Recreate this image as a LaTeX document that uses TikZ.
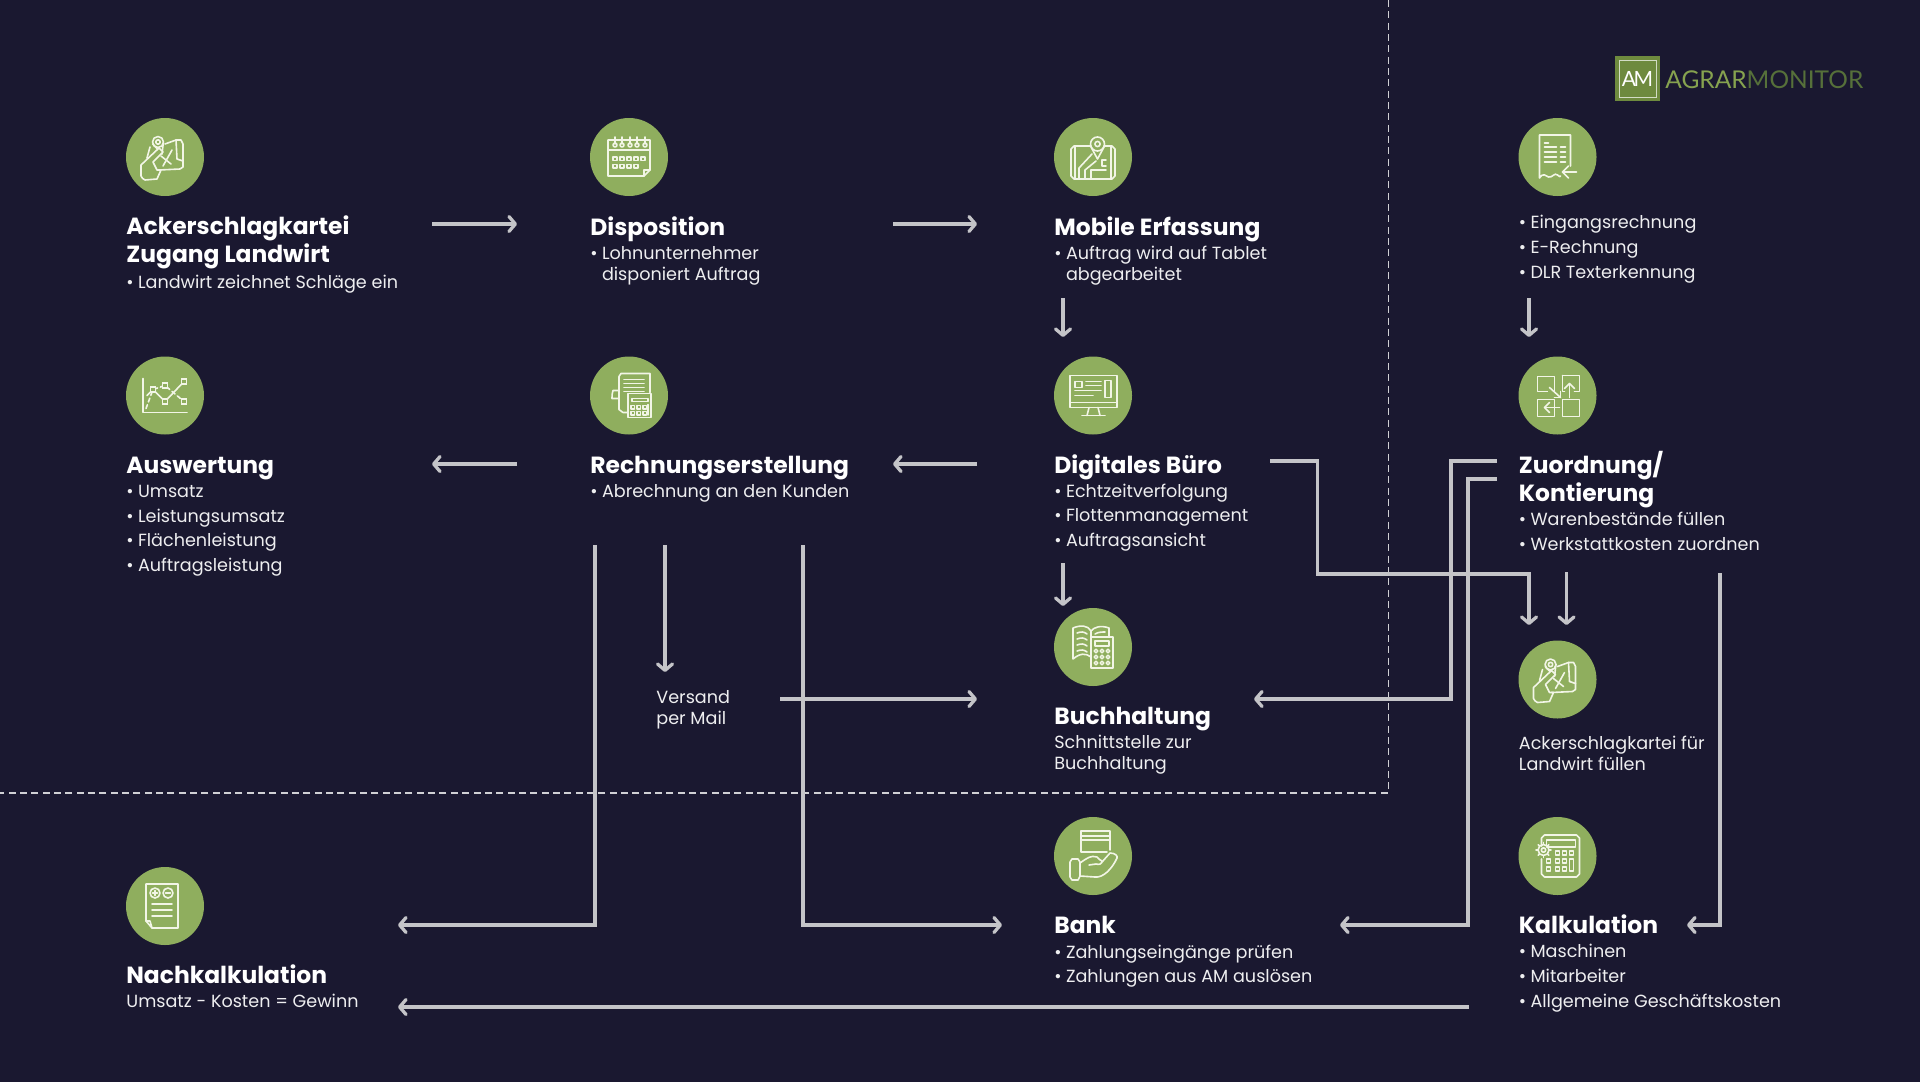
\documentclass[tikz,border=0pt]{standalone}
\usepackage{fontspec}
\setmainfont{Poppins}
\newfontfamily\logofont{Lato}
\usetikzlibrary{arrows.meta}
\definecolor{bgc}{HTML}{1A1830}
\definecolor{grn}{HTML}{8FAE5E}
\definecolor{arrc}{HTML}{C4C4C8}
\definecolor{txtc}{HTML}{EEEEF0}
\definecolor{dshc}{HTML}{D0D0D4}
\definecolor{icoc}{HTML}{F2F5E6}
\definecolor{logod}{HTML}{6E8A3E}
\definecolor{logoa}{HTML}{86A24F}
\definecolor{logom}{HTML}{56703A}
\newcommand\bl[1]{\makebox[5.8pt][l]{•}#1}
\newcommand\hang{\hspace*{5.8pt}}
\tikzset{
  icirc/.style={circle,fill=grn,minimum size=39pt,inner sep=0pt,draw=none},
  ttl/.style={anchor=base west,inner sep=0pt,align=left,text=white,font=\fontsize{11.7}{14}\selectfont\bfseries},
  bdy/.style={anchor=base west,inner sep=0pt,align=left,text=txtc,font=\fontsize{8.8}{12.3}\selectfont},
  arr/.style={draw=arrc,line width=1.65pt,-{Straight Barb[length=3.2pt,width=7.5pt,line width=1.65pt,round]}},
  dsh/.style={draw=dshc,line width=0.8pt,dash pattern=on 3.5pt off 2.17pt},
  ico/.style={draw=icoc,line width=0.8pt,line join=round,line cap=round},
  iconfield/.pic={
    \draw[ico] (-7,-15) circle (5.5);
    \draw[ico] (-7,-15) circle (2.2);
    \draw[ico] (-12.3,-13) -- (-3,-3) -- (-1.7,-14);
    \draw[ico] (-15,-10) -- (-18,1);
    \draw[ico] (0,-13) -- (11,-17) -- (16,-17) to[bend left=20] (18,-13) -- (18,10) to[bend left=20] (15,12) -- (-6,13);
    \draw[ico] (11,-17) -- (12,2) -- (18,4);
    \draw[ico] (-4,-1) -- (6,7);
    \draw[ico] (7,-7) -- (-2,9);
    \draw[ico,fill=grn] (-24,8) -- (-6,-9) -- (-2,-5) -- (-12,5) -- (-8,13) -- (-4,13) -- (-8,22) -- (-20,23) to[bend left=20] (-24,19) -- cycle;
  },
  iconchart/.pic={
    \draw[ico] (-22,-17) -- (-22,17) -- (22,17);
    \draw[ico] (-18,0) -- (-12,-6) -- (0,6) -- (19,-14);
    \draw[ico,dash pattern=on 2pt off 1.5pt] (-19,13) -- (-12,-6) -- (0,-10) -- (19,6);
    \foreach \a/\b in {-12/-6,0/-10,0/6,19/-14,19/6}{\fill[grn,draw=icoc,line width=0.8pt] (\a-2.5,\b-2.5) rectangle (\a+2.5,\b+2.5);}
  },
  iconcal/.pic={
    \draw[ico] (-21,-17) -- (21,-17) -- (21,13) -- (15,19) -- (-21,19) -- cycle;
    \draw[ico] (-21,-7) -- (21,-7);
    \draw[ico] (15,19) -- (15,13) -- (21,13);
    \foreach \a in {-14,-7,1,8,16}{\draw[ico] (\a,-12) circle (2); \draw[ico] (\a,-20) -- (\a,-13);}
    \foreach \a in {-16,-9,-2,5,12}{\draw[ico,line width=0.7pt] (\a,0) rectangle ++(4,3.5);}
    \foreach \a in {-16,-9,-2,5}{\draw[ico,line width=0.7pt] (\a,7.5) rectangle ++(4,3.5);}
  },
  icontablet/.pic={
    \draw[ico] (-2,-11) -- (-19,-11) to[bend right=20] (-22,-8) -- (-22,19) to[bend right=20] (-19,22) -- (19,22) to[bend right=20] (22,19) -- (22,-8) to[bend right=20] (19,-11) -- (11,-11);
    \draw[ico] (-18,-11) -- (-18,22); \draw[ico] (18,-11) -- (18,22);
    \draw[ico] (4.5,-13) circle (7);
    \draw[ico] (4.5,-13) circle (2.6);
    \draw[ico] (-2,-10) -- (4.5,2) -- (11,-10);
    \draw[ico] (-14,22) -- (-14,11) -- (-1,-3);
    \draw[ico] (-8,22) -- (-8,13) -- (3,4);
    \draw[ico] (-2,22) -- (-2,13) -- (13,13);
    \draw[ico] (13,3) -- (9,3) -- (9,9) -- (13,9);
  },
  iconbill/.pic={
    \draw[ico] (-1,17) -- (-6,17) -- (-10,14) -- (-10,-19) to[bend left=30] (-8,-22) -- (21,-22) -- (21,-3);
    \draw[ico] (-10,-5) -- (-16,-5) to[bend right=10] (-17,3) -- (-10,3);
    \foreach \b in {-16,-12,-8,-4}{\draw[ico] (-5,\b) -- (15,\b);}
    \draw[ico] (-1,-2) rectangle (22,22);
    \draw[ico] (3,3) rectangle (19,6);
    \foreach \a in {2,8,14}{\foreach \b in {10,16}{\draw[ico,line width=0.7pt] (\a,\b) rectangle ++(3.5,3.5);}}
    \draw[ico,line width=0.7pt] (19,9) -- (19,19.5);
  },
  iconscreen/.pic={
    \draw[ico] (-23,-20) rectangle (24,12);
    \draw[ico] (-23,7) -- (24,7);
    \draw[ico] (-4,12) -- (-6,20); \draw[ico] (5,12) -- (7,20);
    \draw[ico] (-11,20) -- (12,20);
    \draw[ico] (-18,-14) rectangle (-11,-8);
    \draw[ico] (-7,-14) -- (8,-14); \draw[ico] (-7,-10) -- (8,-10);
    \draw[ico] (-18,-5) -- (8,-5); \draw[ico] (-18,0) -- (0,0);
    \draw[ico] (12,-15) rectangle (18,2);
  },
  iconin/.pic={
    \draw[ico] (13,9) -- (13,-22) -- (-18,-22) -- (-18,21) .. controls (-14,15) and (-12,19) .. (-9,20) .. controls (-5,21) and (-3,15) .. (0,18) .. controls (2,20) and (3,20) .. (3,19);
    \draw[ico] (-13,-14) -- (-9,-14);
    \foreach \b in {-10,-5,0,5}{\draw[ico] (-13,\b) -- (-1,\b); \draw[ico] (3,\b) -- (8,\b);}
    \draw[ico] (19,15) -- (5,15);
    \draw[ico] (11,9) -- (5,15) -- (11,21);
  },
  iconassign/.pic={
    \draw[ico] (-20,-19) rectangle (-3,-4);
    \draw[ico] (5,-20) -- (22,-20) -- (22,-4) -- (17,-4);
    \draw[ico] (7,-4) -- (5,-4) -- (5,-20);
    \draw[ico] (-20,4) rectangle (-3,21);
    \draw[ico] (5,4) rectangle (22,21);
    \fill[grn] (-10,-5) rectangle (-2,3);
    \draw[ico] (-8,-8) -- (3,2);
    \draw[ico] (-3,2) -- (3,2) -- (3,-4);
    \draw[ico] (12,2) -- (12,-12);
    \draw[ico] (7,-7) -- (12,-12) -- (17,-7);
    \draw[ico] (2,12) -- (-13,12);
    \draw[ico] (-8,7) -- (-13,12) -- (-8,17);
  },
  iconbook/.pic={
    \draw[ico] (-2,10) .. controls (-7,6) and (-13,6) .. (-20,12) -- (-20,-19) .. controls (-13,-22) and (-5,-22) .. (-2,-16) .. controls (1,-20) and (8,-22) .. (16,-19) -- (16,-9);
    \draw[ico] (-2,-16) -- (-2,14);
    \foreach \b in {-14,-8,-2,4}{\draw[ico] (-16,\b) .. controls (-12,\b-1.5) and (-9,\b-1.5) .. (-6,\b+1);}
    \draw[ico] (2,-13) .. controls (5,-15) and (9,-15) .. (12,-15);
    \draw[ico,fill=grn] (-2,-10) rectangle (20,21);
    \draw[ico] (2,-6) rectangle (16,-1);
    \foreach \a in {3,9,15}{\foreach \b in {4,10,16}{\draw[ico,line width=0.7pt] (\a,\b) circle (1.9);}}
  },
  iconbank/.pic={
    \draw[ico] (17,-6) -- (17,-25) -- (-12,-25) -- (-12,-4) -- (14,-4);
    \draw[ico] (-12,-16) -- (17,-16);
    \draw[ico] (-12,-20) -- (17,-20);
    \draw[ico] (-21,3) -- (-15,3) -- (-13,6) -- (-13,20) -- (-15,24) -- (-21,24) -- (-23,21) -- (-23,6) -- cycle;
    \draw[ico] (-13,7) .. controls (-6,2) and (-2,-1) .. (4,1) .. controls (6,3) and (8,5) .. (9,5);
    \draw[ico] (9,5) .. controls (9,8) and (6,9) .. (3,8) -- (-4,9);
    \draw[ico] (9,6) -- (17,-3) .. controls (22,-3) and (25,0) .. (24,2) .. controls (19,13) and (10,22) .. (2,21) -- (-13,20);
  },
  iconcalc/.pic={
    \draw[ico] (-16,-10) -- (-16,-18) -- (-13,-21) -- (19,-21) -- (22,-18) -- (22,18) -- (19,21) -- (-13,21) -- (-16,18) -- (-16,3);
    \draw[ico] (-11,-16) rectangle (18,-9);
    \foreach \a in {-2,5,12}{\draw[ico,line width=0.7pt] (\a,-5) rectangle ++(4,4);}
    \foreach \a in {-11,-2,5}{\draw[ico,line width=0.7pt] (\a,3) rectangle ++(4,4); \draw[ico,line width=0.7pt] (\a,11) rectangle ++(4,4);}
    \draw[ico,line width=0.7pt] (12,3) rectangle (16,15);
    \draw[ico] (-14,-6) circle (5.5);
    \draw[ico] (-14,-6) circle (2.2);
    \foreach \t in {0,45,...,315}{\draw[ico] ([shift={(\t:5.5)}]-14,-6) -- ([shift={(\t:7.5)}]-14,-6);}
  },
  icondoc/.pic={
    \draw[ico] (-19,-22) -- (13,-22) -- (13,22) -- (-13,22) -- (-19,15) -- cycle;
    \draw[ico] (-13,22) -- (-15,15) -- (-19,15);
    \draw[ico] (-10,-13) circle (5); \draw[ico] (3,-13) circle (5);
    \draw[ico] (-12.5,-13) -- (-7.5,-13); \draw[ico] (-10,-15.5) -- (-10,-10.5);
    \draw[ico] (0.5,-13) -- (5.5,-13);
    \foreach \b in {-2,4,10}{\draw[ico] (-13,\b) -- (7,\b);}
  }
}
\begin{document}
\begin{tikzpicture}[x=0.5pt,y=-0.5pt]
\fill[bgc] (0,0) rectangle (1920,1082);
\useasboundingbox (0,0) rectangle (1920,1082);

% dashed frame
\coordinate (dA) at (1388.5,0);
\coordinate (dB) at (1388.5,793);
\coordinate (dC) at (0,793);
\draw[dsh] (dA) -- (dB) -- (dC);

% circles
\node[icirc] (iAck) at (165,157) {};
\node[icirc] (iDis) at (629,157) {};
\node[icirc] (iMob) at (1093,157) {};
\node[icirc] (iEin) at (1557.5,157) {};
\node[icirc] (iAus) at (165,395.5) {};
\node[icirc] (iRec) at (629,395.5) {};
\node[icirc] (iDig) at (1093,395.5) {};
\node[icirc] (iZuo) at (1557.5,395.5) {};
\node[icirc] (iBuc) at (1093,647) {};
\node[icirc] (iFil) at (1557.5,679.5) {};
\node[icirc] (iBan) at (1093,856) {};
\node[icirc] (iKal) at (1557.5,856) {};
\node[icirc] (iNac) at (165,906) {};

\pic at (iAck) {iconfield};
\pic at (iDis) {iconcal};
\pic at (iMob) {icontablet};
\pic at (iEin) {iconin};
\pic at (iAus) {iconchart};
\pic at (iRec) {iconbill};
\pic at (iDig) {iconscreen};
\pic at (iZuo) {iconassign};
\pic at (iBuc) {iconbook};
\pic at (iFil) {iconfield};
\pic at (iBan) {iconbank};
\pic at (iKal) {iconcalc};
\pic at (iNac) {icondoc};

% texts (base of a multi-line node = its last line)
\node[ttl] (tAck) at (126,262.5) {Ackerschlagkartei\\Zugang Landwirt};
\node[bdy] (bAck) at (126,288) {\bl{Landwirt zeichnet Schläge ein}};
\node[ttl] (tDis) at (590,235) {Disposition};
\node[bdy] (bDis) at (590,280) {\bl{Lohnunternehmer}\\[-1.8pt]\hang disponiert Auftrag};
\node[ttl] (tMob) at (1054,235) {Mobile Erfassung};
\node[bdy] (bMob) at (1054,280) {\bl{Auftrag wird auf Tablet}\\[-1.8pt]\hang abgearbeitet};
\node[bdy] (bEin) at (1518.5,278) {\bl{Eingangsrechnung}\\\bl{E-Rechnung}\\\bl{DLR Texterkennung}};
\node[ttl] (tAus) at (126,473) {Auswertung};
\node[bdy] (bAus) at (126,571.5) {\bl{Umsatz}\\\bl{Leistungsumsatz}\\\bl{Flächenleistung}\\\bl{Auftragsleistung}};
\node[ttl] (tRec) at (590,473) {Rechnungserstellung};
\node[bdy] (bRec) at (590,497.5) {\bl{Abrechnung an den Kunden}};
\node[ttl] (tDig) at (1054,473) {Digitales Büro};
\node[bdy] (bDig) at (1054,546.5) {\bl{Echtzeitverfolgung}\\\bl{Flottenmanagement}\\\bl{Auftragsansicht}};
\node[ttl] (tZuo) at (1518.5,501) {Zuordnung/\\Kontierung};
\node[bdy] (bZuo) at (1518.5,550.5) {\bl{Warenbestände füllen}\\\bl{Werkstattkosten zuordnen}};
\node[bdy] (bVer) at (656,724) {Versand\\[-1.8pt]per Mail};
\node[ttl] (tBuc) at (1054,724) {Buchhaltung};
\node[bdy] (bBuc) at (1054,769) {Schnittstelle zur\\[-1.8pt]Buchhaltung};
\node[bdy] (bFil) at (1518.5,770) {Ackerschlagkartei für\\[-1.8pt]Landwirt füllen};
\node[ttl] (tBan) at (1054,933) {Bank};
\node[bdy] (bBan) at (1054,982.6) {\bl{Zahlungseingänge prüfen}\\\bl{Zahlungen aus AM auslösen}};
\node[ttl] (tKal) at (1518.5,933) {Kalkulation};
\node[bdy] (bKal) at (1518.5,1007) {\bl{Maschinen}\\\bl{Mitarbeiter}\\\bl{Allgemeine Geschäftskosten}};
\node[ttl] (tNac) at (126,983) {Nachkalkulation};
\node[bdy] (bNac) at (126,1007.5) {Umsatz - Kosten = Gewinn};

% connector end points
\coordinate (p1a) at (432,224);   \coordinate (p1b) at (517,224);
\coordinate (p2a) at (893,224);   \coordinate (p2b) at (977,224);
\coordinate (p3a) at (1063,298);  \coordinate (p3b) at (1063,337);
\coordinate (p4a) at (1529,298);  \coordinate (p4b) at (1529,337);
\coordinate (p5a) at (517,464);   \coordinate (p5b) at (432,464);
\coordinate (p6a) at (977,464);   \coordinate (p6b) at (893,464);
\coordinate (p7a) at (1063,563);  \coordinate (p7b) at (1063,606);
\coordinate (p8a) at (1270,461);  \coordinate (p8m) at (1317.5,574); \coordinate (p8b) at (1529,625);
\coordinate (p9a) at (1566.5,572);  \coordinate (p9b) at (1566.5,625);
\coordinate (p10a) at (1497,461); \coordinate (p10m) at (1451,461); \coordinate (p10b) at (1254,699);
\coordinate (p11a) at (1497,479); \coordinate (p11m) at (1468,479); \coordinate (p11b) at (1340,925);
\coordinate (p12a) at (1720,573); \coordinate (p12b) at (1687,925);
\coordinate (p13a) at (1469,1007);\coordinate (p13b) at (398,1007);
\coordinate (p14a) at (595,545);  \coordinate (p14b) at (398,925);
\coordinate (p15a) at (665,545);  \coordinate (p15b) at (665,672);
\coordinate (p16a) at (803,545);  \coordinate (p16b) at (1002,925);
\coordinate (p17a) at (780,699);  \coordinate (p17b) at (977,699);

\draw[arr] (p1a) -- (p1b);
\draw[arr] (p2a) -- (p2b);
\draw[arr] (p3a) -- (p3b);
\draw[arr] (p4a) -- (p4b);
\draw[arr] (p5a) -- (p5b);
\draw[arr] (p6a) -- (p6b);
\draw[arr] (p7a) -- (p7b);
\draw[arr] (p8a) -| (p8m) -| (p8b);
\draw[arr] (p9a) -- (p9b);
\draw[arr] (p10a) -- (p10m) |- (p10b);
\draw[arr] (p11a) -- (p11m) |- (p11b);
\draw[arr] (p12a) |- (p12b);
\draw[arr] (p13a) -- (p13b);
\draw[arr] (p14a) |- (p14b);
\draw[arr] (p15a) -- (p15b);
\draw[arr] (p16a) |- (p16b);
\draw[arr] (p17a) -- (p17b);

% logo
\node[rectangle,fill=logod,minimum size=22.5pt,inner sep=0pt] (lgBox) at (1637.5,78.5) {};
\node[rectangle,draw=white!70!logod,line width=0.5pt,minimum size=18.5pt,inner sep=0pt,font=\logofont\fontsize{10.5}{12}\selectfont,text=white] (lgIn) at (lgBox) {A\kern-1.2pt M};
\node[anchor=base west,inner sep=0pt,font=\logofont\fontsize{12.25}{14}\selectfont] (lgTxt) at (1665,88) {\textcolor{logoa}{AGRAR}\textcolor{logom}{MONITOR}};
\end{tikzpicture}
\end{document}
